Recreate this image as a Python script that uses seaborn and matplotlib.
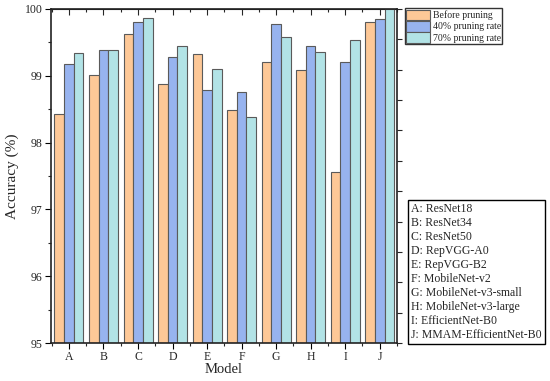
import numpy as np
import pandas as pd
import matplotlib
matplotlib.use("Agg")
import matplotlib.pyplot as plt
from matplotlib.ticker import MultipleLocator, FixedLocator
import seaborn as sns

# DATA
models = ["A", "B", "C", "D", "E", "F", "G", "H", "I", "J"]
model_names = ["ResNet18", "ResNet34", "ResNet50", "RepVGG-A0", "RepVGG-B2",
               "MobileNet-v2", "MobileNet-v3-small", "MobileNet-v3-large",
               "EfficientNet-B0", "MMAM-EfficientNet-B0"]
series = ["Before pruning", "40% pruning rate", "70% pruning rate"]
before  = [98.43, 99.01, 99.63, 98.88, 99.33, 98.49, 99.20, 99.08, 97.56, 99.80]
prune40 = [99.18, 99.38, 99.80, 99.28, 98.78, 98.75, 99.78, 99.44, 99.21, 99.85]
prune70 = [99.34, 99.38, 99.87, 99.45, 99.10, 98.38, 99.58, 99.36, 99.53, 100.0]
colors = ["#FDC897", "#97B3EF", "#B2E3E6"]

df = pd.DataFrame({
    "Model": models * 3,
    "Accuracy": before + prune40 + prune70,
    "Series": [s for s in series for _ in models],
})

sns.set_style("ticks")
plt.rcParams['font.family'] = ['Liberation Serif', 'DejaVu Serif']

fig = plt.figure(figsize=(5.5, 3.81), dpi=100)
ax = fig.add_axes([0.0927, 0.0997, 0.6291, 0.8767])

sns.barplot(data=df, x="Model", y="Accuracy", hue="Series", palette=colors,
            saturation=1, edgecolor="#5a5a5a", linewidth=0.8, width=0.84,
            ax=ax, legend=False)

ax.set_ylim(95, 100)
ax.set_xlim(-0.52, 9.5)
ax.yaxis.set_major_locator(MultipleLocator(1))
ax.yaxis.set_minor_locator(MultipleLocator(0.5))
ax.xaxis.set_minor_locator(FixedLocator(np.arange(-0.5, 10, 1)))
ax.set_xlabel("Model", fontsize=10.5, labelpad=0)
ax.set_ylabel("Accuracy (%)", fontsize=11, labelpad=4)
ax.tick_params(axis="both", which="major", labelsize=8.5, direction="out",
               length=4, width=0.8, color="black", pad=2)
ax.tick_params(axis="both", which="minor", direction="out", length=2.5, width=0.8)
for spine in ax.spines.values():
    spine.set_visible(True)
    spine.set_linewidth(1.2)
    spine.set_color("#222222")

# top ticks point inward: draw with a secondary x axis
top = ax.secondary_xaxis("top")
top.set_xticks(range(len(models)))
top.set_xticklabels([])
top.xaxis.set_minor_locator(FixedLocator(np.arange(-0.5, 10, 1)))
top.tick_params(which="major", direction="in", length=4.5, width=0.8)
top.tick_params(which="minor", direction="in", length=2.5, width=0.8)

# right axis with its own tick spacing, no labels
right = ax.twinx()
right.set_ylim(0, 11)
right.yaxis.set_major_locator(MultipleLocator(1))
right.set_yticklabels([])
right.tick_params(axis="y", direction="out", length=3.5, width=0.8)
for spine in right.spines.values():
    spine.set_visible(False)

# series legend outside the axes
handles = [plt.Rectangle((0, 0), 1, 1, facecolor=c, edgecolor="#5a5a5a", linewidth=0.8)
           for c in colors]
leg = fig.legend(handles, series, loc="upper left", bbox_to_anchor=(0.736, 0.978),
                 fontsize=7, frameon=True, fancybox=False, handlelength=2.4,
                 handleheight=1.3, handletextpad=0.3, labelspacing=0.05,
                 borderpad=0.15, borderaxespad=0)
leg.get_frame().set_edgecolor("black")
leg.get_frame().set_linewidth(1.0)

# model key box
key = "\n".join(f"{m}: {n}" for m, n in zip(models, model_names))
fig.text(0.748, 0.105, key, fontsize=8.5, va="bottom", ha="left",
         linespacing=1.22,
         bbox=dict(boxstyle="square,pad=0.25", facecolor="white",
                   edgecolor="black", linewidth=1.0))

fig.savefig("out.png", dpi=100)
